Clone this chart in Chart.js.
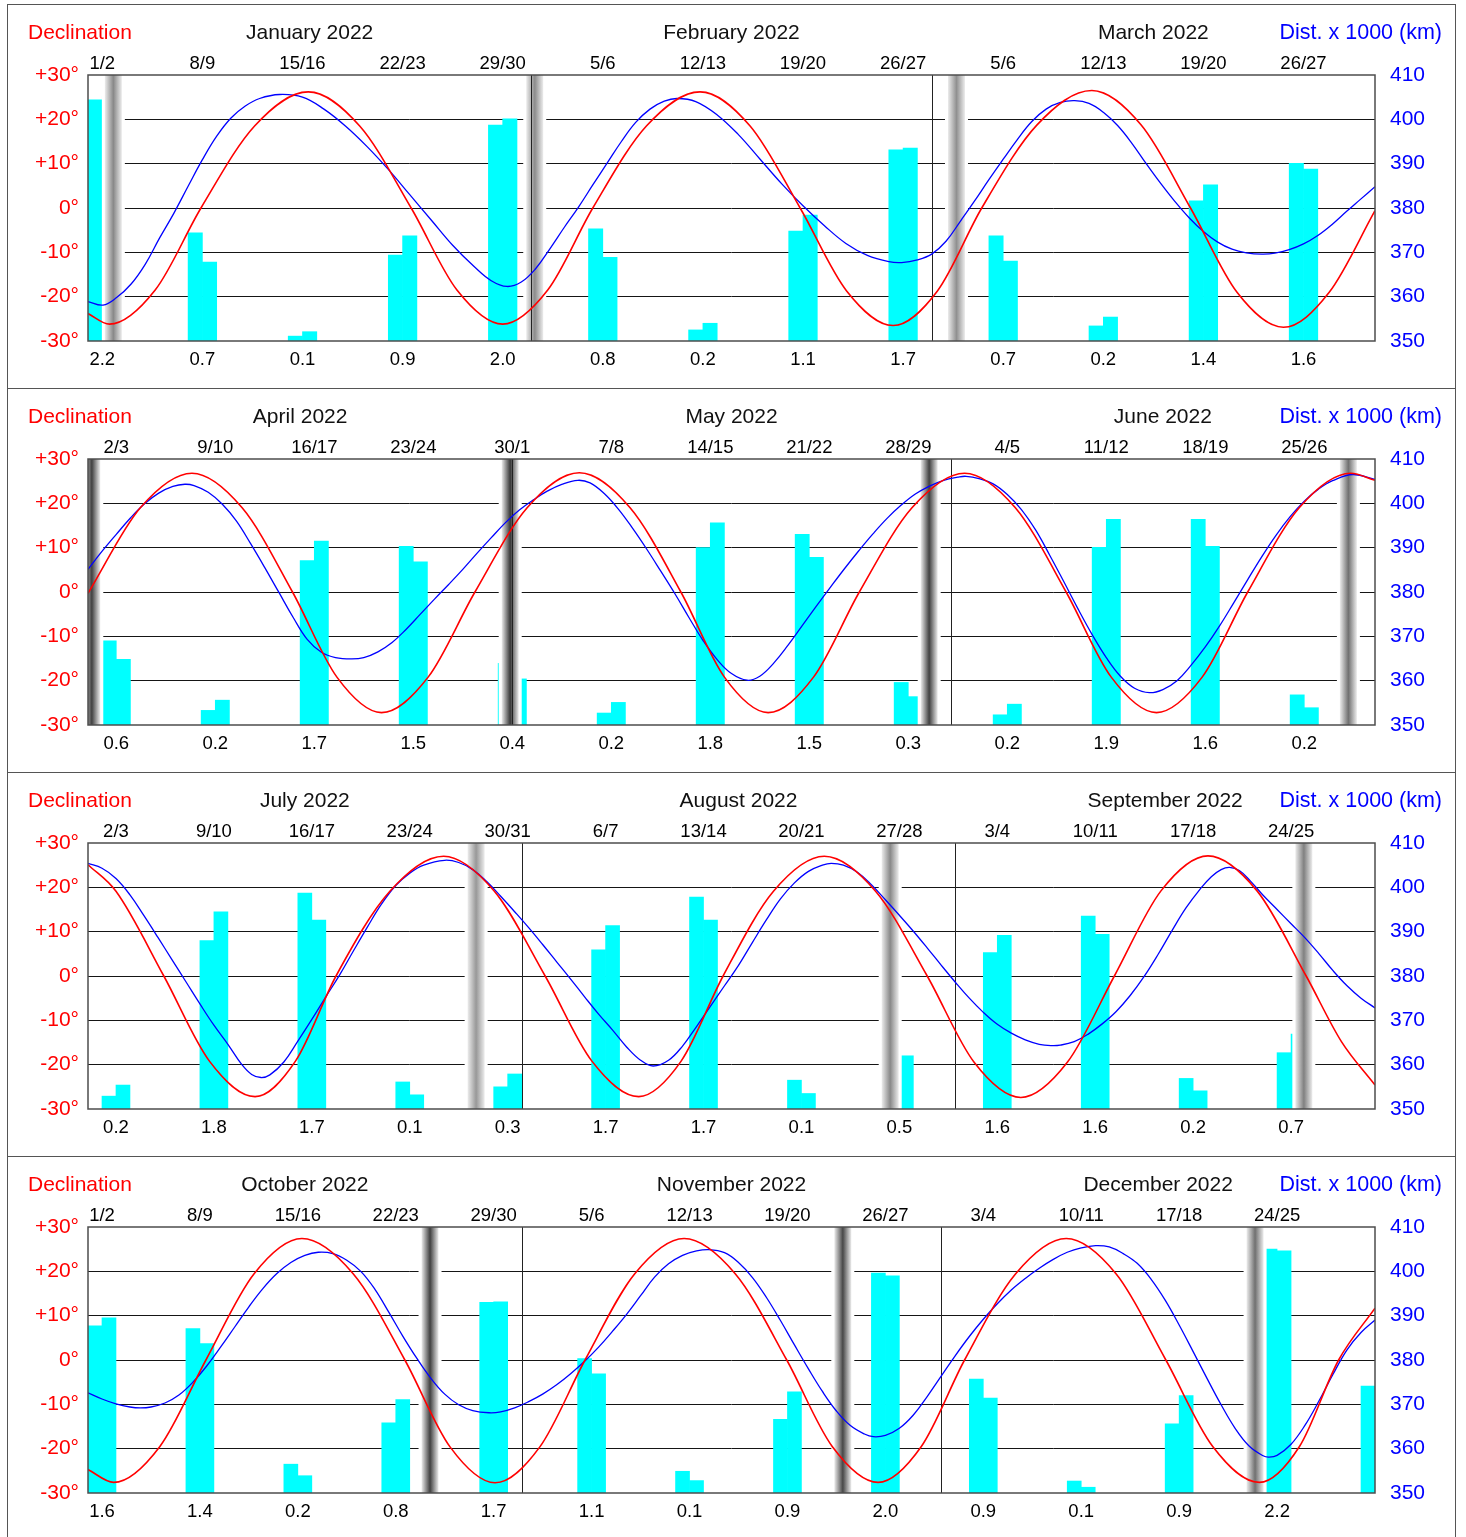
<!DOCTYPE html>
<html><head><meta charset="utf-8">
<script src="https://cdn.jsdelivr.net/npm/chart.js@4.4.1/dist/chart.umd.min.js"></script>
<style>
html,body{margin:0;padding:0;background:#fff;}
body{width:1466px;height:1537px;position:relative;overflow:hidden;}
.frame{position:absolute;left:7px;width:1447px;height:384px;border:1px solid #555;border-bottom:none;}
canvas{position:absolute;left:0;}
</style></head><body>
<script>
// ---------- Panel 1: January - March 2022 ----------
const P1_MONTHS = ['January 2022', 'February 2022', 'March 2022'];
const P1_MONTH_DAYS = [31, 28, 31];
const P1_PAIR_AT = [1, 8, 15, 22, 29, 36, 43, 50, 57, 64, 71, 78, 85];
const P1_PAIR_DATES = ['1/2', '8/9', '15/16', '22/23', '29/30', '5/6', '12/13', '19/20', '26/27', '5/6', '12/13', '19/20', '26/27'];
const P1_PAIR_VALUES = ['2.2', '0.7', '0.1', '0.9', '2.0', '0.8', '0.2', '1.1', '1.7', '0.7', '0.2', '1.4', '1.6'];
const P1_BAR_DAYS = [0, 1, 7, 8, 14, 15, 21, 22, 28, 29, 35, 36, 42, 43, 49, 50, 56, 57, 63, 64, 70, 71, 77, 78, 84, 85];
const P1_BAR_VALUES = [54.4, 55.3, 24.4, 17.8, 1.1, 2.1, 19.4, 23.7, 48.7, 50.1, 25.3, 18.9, 2.5, 4.0, 24.8, 28.4, 43.1, 43.5, 23.7, 18.0, 3.4, 5.4, 31.6, 35.2, 40.1, 38.8];
const P1_DECL_T = [0, 1.5, 4.7, 7.9, 11.65, 15.4, 19.0, 22.6, 25.8, 29.0, 32.15, 35.3, 39.05, 42.8, 46.3, 49.8, 53.05, 56.3, 59.4, 62.5, 66.35, 70.2, 73.65, 77.1, 80.35, 83.6, 86.8, 90];
const P1_DECL = [-23.8, -26.2, -18.5, 0, 18.5, 26.2, 18.5, 0, -18.5, -26.2, -18.5, 0, 18.5, 26.2, 18.5, 0, -18.7, -26.5, -18.7, 0, 18.7, 26.5, 18.7, 0, -19.0, -26.9, -19.0, -0.6];
const P1_DIST_T = [0, 1.05, 2, 3, 4, 5, 6, 7, 8, 9, 10, 11, 12, 13.4, 15, 16.5, 18, 19.5, 21, 22.5, 24, 25.5, 27, 28.2, 29.3, 30.3, 31.3, 32.3, 33.3, 34.3, 35.3, 36.3, 37.3, 38.3, 39.3, 40.3, 41.2, 42.5, 44, 45.5, 47, 48.5, 50, 51.5, 53, 54.5, 56, 56.9, 58, 59, 60, 61, 62, 63, 64, 65, 66, 67, 68, 69, 70, 71, 72, 73, 74, 75, 76, 77, 78, 79, 80, 81, 82.1, 83, 84, 85, 86, 87, 88, 89, 90];
const P1_DIST = [358.9, 358.1, 359.8, 362.8, 367.3, 373.2, 378.8, 384.9, 390.9, 396.2, 400.3, 403.0, 404.7, 405.6, 405.0, 402.3, 398.5, 393.9, 388.7, 383.0, 377.3, 371.6, 366.8, 363.6, 362.3, 363.3, 366.3, 370.8, 375.6, 380.2, 385.2, 390.1, 395.0, 399.3, 402.3, 404.1, 404.7, 404.0, 401.0, 396.5, 391.0, 385.5, 380.5, 376.0, 372.0, 369.3, 367.9, 367.7, 368.3, 369.6, 372.5, 377.0, 381.6, 386.4, 391.0, 395.5, 399.5, 402.3, 403.8, 404.2, 403.6, 401.6, 398.6, 394.6, 390.0, 385.6, 381.5, 377.8, 374.7, 372.3, 370.7, 369.9, 369.6, 369.8, 370.6, 371.9, 373.8, 376.3, 379.2, 382.0, 384.8];
const P1_NEW_MOON = [1.773, 31.240, 60.733];
const P1_NEW_MOON_SHADE = [136, 140, 144];

// ---------- Panel 2: April - June 2022 ----------
const P2_MONTHS = ['April 2022', 'May 2022', 'June 2022'];
const P2_MONTH_DAYS = [30, 31, 30];
const P2_PAIR_AT = [2, 9, 16, 23, 30, 37, 44, 51, 58, 65, 72, 79, 86];
const P2_PAIR_DATES = ['2/3', '9/10', '16/17', '23/24', '30/1', '7/8', '14/15', '21/22', '28/29', '4/5', '11/12', '18/19', '25/26'];
const P2_PAIR_VALUES = ['0.6', '0.2', '1.7', '1.5', '0.4', '0.2', '1.8', '1.5', '0.3', '0.2', '1.9', '1.6', '0.2'];
const P2_BAR_DAYS = [1, 2, 8, 9, 15, 16, 22, 23, 29, 30, 36, 37, 43, 44, 50, 51, 57, 58, 64, 65, 71, 72, 78, 79, 85, 86];
const P2_BAR_VALUES = [19.0, 14.8, 3.3, 5.6, 37.1, 41.5, 40.3, 36.8, 13.9, 10.4, 2.7, 5.1, 40.0, 45.6, 43.0, 37.8, 9.6, 6.4, 2.3, 4.7, 40.1, 46.4, 46.4, 40.3, 6.8, 3.9];
const P2_DECL_T = [0, 3.7, 7.35, 10.9, 14.46, 17.6, 20.75, 24.05, 27.36, 31.05, 34.74, 38.33, 41.92, 45.0, 48.09, 51.3, 54.54, 58.26, 61.98, 65.57, 69.16, 72.35, 75.55, 78.78, 82.0, 85.64, 89.28, 91];
const P2_DECL = [-0.3, 19.0, 26.8, 19.0, 0, -19.2, -27.2, -19.2, 0, 19.0, 26.9, 19.0, 0, -19.2, -27.2, -19.2, 0, 19.0, 26.8, 19.0, 0, -19.2, -27.2, -19.2, 0, 19.0, 26.8, 25.2];
const P2_DIST_T = [0, 1, 2, 3, 4, 5, 6, 6.85, 7.5, 8.5, 9.5, 10.5, 11.5, 12.5, 13.5, 14.5, 15.5, 16.5, 17.5, 18.66, 19.5, 20.5, 21.5, 22.5, 23.5, 24.5, 25.5, 26.5, 27.5, 28.5, 29.5, 30.5, 31.5, 32.5, 33.5, 34.64, 35.5, 36.5, 37.5, 38.5, 39.5, 40.5, 41.5, 42.5, 43.5, 44.5, 45.5, 46.6, 47.5, 48.5, 49.5, 50.5, 51.5, 52.5, 53.5, 54.5, 55.5, 56.5, 57.5, 58.5, 59.5, 60.5, 61.5, 62.08, 63, 64, 65, 66, 67, 68, 69, 70, 71, 72, 73, 74, 75.05, 76, 77, 78, 79, 80, 81, 82, 83, 84, 85, 86, 87, 88, 89.44, 91];
const P2_DIST = [385.1, 389.2, 393.0, 396.7, 399.9, 402.3, 403.8, 404.3, 404.0, 402.5, 399.8, 396.0, 390.9, 385.5, 379.9, 374.3, 369.3, 366.4, 365.2, 364.9, 365.2, 366.5, 368.6, 371.6, 375.0, 378.4, 381.7, 385.1, 388.7, 392.2, 395.6, 398.5, 400.8, 402.8, 404.3, 405.2, 404.6, 402.2, 398.7, 394.4, 389.7, 384.7, 379.6, 374.2, 369.0, 364.7, 361.6, 360.1, 361.0, 364.0, 368.0, 372.4, 376.8, 381.1, 385.3, 389.3, 393.1, 396.6, 399.6, 402.1, 403.9, 405.2, 405.9, 406.1, 405.6, 404.4, 402.0, 398.6, 394.0, 388.3, 382.3, 376.2, 370.4, 365.2, 361.0, 358.3, 357.3, 358.0, 360.0, 363.5, 367.6, 372.3, 377.5, 382.8, 388.0, 392.8, 397.0, 400.5, 403.2, 405.1, 406.5, 405.4];
const P2_NEW_MOON = [0.267, 29.853, 59.479, 89.119];
const P2_NEW_MOON_SHADE = [64, 56, 64, 112];

// ---------- Panel 3: July - September 2022 ----------
const P3_MONTHS = ['July 2022', 'August 2022', 'September 2022'];
const P3_MONTH_DAYS = [31, 31, 30];
const P3_PAIR_AT = [2, 9, 16, 23, 30, 37, 44, 51, 58, 65, 72, 79, 86];
const P3_PAIR_DATES = ['2/3', '9/10', '16/17', '23/24', '30/31', '6/7', '13/14', '20/21', '27/28', '3/4', '10/11', '17/18', '24/25'];
const P3_PAIR_VALUES = ['0.2', '1.8', '1.7', '0.1', '0.3', '1.7', '1.7', '0.1', '0.5', '1.6', '1.6', '0.2', '0.7'];
const P3_BAR_DAYS = [1, 2, 8, 9, 15, 16, 22, 23, 29, 30, 36, 37, 43, 44, 50, 51, 57, 58, 64, 65, 71, 72, 78, 79, 85, 86];
const P3_BAR_VALUES = [2.9, 5.4, 38.0, 44.5, 48.7, 42.6, 6.1, 3.2, 5.0, 7.9, 35.9, 41.4, 47.8, 42.6, 6.5, 3.5, 10.0, 12.0, 35.3, 39.2, 43.5, 39.4, 6.9, 4.1, 12.7, 16.9];
const P3_DECL_T = [0, 2.0, 5.42, 8.68, 11.94, 14.83, 17.73, 21.58, 25.42, 29.05, 32.68, 36.02, 39.37, 42.4, 45.4, 49.0, 52.63, 56.3, 59.99, 63.33, 66.68, 70.02, 73.37, 76.7, 80.06, 83.57, 87.08, 89.6, 92];
const P3_DECL = [25.1, 19.1, 0, -19.2, -27.2, -19.2, 0, 19.1, 27.0, 19.1, 0, -19.2, -27.2, -19.2, 0, 19.1, 27.0, 19.1, 0, -19.4, -27.4, -19.4, 0, 19.2, 27.1, 19.2, 0, -14.8, -24.6];
const P3_DIST_T = [0, 1, 2, 3, 4, 5, 6, 7, 8, 9, 10, 11, 11.7, 12.37, 13, 14, 15, 16, 17, 18, 19, 20, 21, 22, 23, 24, 25.49, 26.5, 27.5, 28.5, 29.5, 30.5, 31.5, 32.5, 33.5, 34.5, 35.5, 36.5, 37.5, 38.5, 39.5, 40.4, 41.5, 42.5, 43.5, 44.5, 45.5, 46.5, 47.5, 48.5, 49.5, 50.5, 51.5, 52.5, 53.13, 54, 55, 56, 57, 58, 59, 60, 61, 62, 63, 64, 65, 66, 67, 68, 68.86, 69.5, 70.5, 71.5, 72.5, 73.5, 74.5, 75.5, 76.5, 77.5, 78.5, 79.5, 80.3, 81.0, 81.6, 82.3, 83.1, 84, 85, 86, 87, 88, 89, 90, 91, 92];
const P3_DIST = [405.4, 404.3, 402.0, 398.3, 393.6, 388.7, 383.7, 378.7, 373.7, 368.9, 364.6, 360.0, 357.8, 357.1, 357.7, 360.6, 365.3, 370.2, 375.3, 380.3, 385.8, 391.2, 396.3, 400.4, 403.2, 405.0, 406.1, 405.6, 404.0, 401.3, 398.0, 394.5, 390.9, 387.1, 383.2, 379.3, 375.3, 371.4, 367.8, 364.0, 361.0, 359.7, 361.0, 364.2, 368.6, 373.2, 377.8, 382.4, 387.6, 392.7, 397.4, 401.0, 403.6, 405.0, 405.4, 405.0, 403.4, 400.6, 397.2, 393.7, 390.1, 386.3, 382.4, 378.6, 375.0, 371.8, 369.1, 367.1, 365.6, 364.6, 364.3, 364.4, 365.2, 366.9, 369.2, 372.0, 375.6, 379.9, 384.9, 390.3, 395.4, 399.6, 402.4, 404.0, 404.5, 403.8, 401.4, 398.2, 395.0, 391.8, 388.6, 385.0, 381.2, 377.8, 375.0, 372.8];
const P3_NEW_MOON = [27.746, 57.345, 86.913];
const P3_NEW_MOON_SHADE = [152, 136, 128];

// ---------- Panel 4: October - December 2022 ----------
const P4_MONTHS = ['October 2022', 'November 2022', 'December 2022'];
const P4_MONTH_DAYS = [31, 30, 31];
const P4_PAIR_AT = [1, 8, 15, 22, 29, 36, 43, 50, 57, 64, 71, 78, 85];
const P4_PAIR_DATES = ['1/2', '8/9', '15/16', '22/23', '29/30', '5/6', '12/13', '19/20', '26/27', '3/4', '10/11', '17/18', '24/25'];
const P4_PAIR_VALUES = ['1.6', '1.4', '0.2', '0.8', '1.7', '1.1', '0.1', '0.9', '2.0', '0.9', '0.1', '0.9', '2.2'];
const P4_BAR_DAYS = [0, 1, 7, 8, 14, 15, 21, 22, 28, 29, 35, 36, 42, 43, 49, 50, 56, 57, 63, 64, 70, 71, 77, 78, 84, 85, 91];
const P4_BAR_VALUES = [37.7, 39.5, 37.1, 33.7, 6.5, 3.9, 15.8, 21.1, 43.0, 43.1, 30.3, 26.9, 4.9, 2.8, 16.6, 22.8, 49.6, 49.0, 25.7, 21.4, 2.7, 1.3, 15.6, 22.0, 55.0, 54.6, 24.1];
const P4_DECL_T = [0, 1.84, 5.14, 8.43, 11.86, 15.29, 18.97, 22.65, 25.88, 29.1, 32.3, 35.53, 39.07, 42.61, 46.28, 49.95, 53.2, 56.48, 59.57, 62.66, 66.3, 69.93, 73.5, 77.05, 80.4, 83.74, 86.6, 89.4, 92];
const P4_DECL = [-24.7, -27.6, -19.5, 0, 19.4, 27.4, 19.4, 0, -19.6, -27.7, -19.6, 0, 19.4, 27.4, 19.4, 0, -19.5, -27.6, -19.5, 0, 19.4, 27.4, 19.4, 0, -19.5, -27.6, -19.5, 0, 11.7];
const P4_DIST_T = [0, 1, 2, 3, 3.74, 4.5, 5.5, 6.5, 7.5, 8.5, 9.5, 10.5, 11.5, 12.5, 13.5, 14.5, 15.5, 16.46, 17.5, 18.5, 19.5, 20.5, 21.5, 22.5, 23.5, 24.5, 25.5, 26.5, 27.5, 28.67, 29.5, 30.5, 31.5, 32.5, 33.5, 34.5, 35.5, 36.5, 37.5, 38.5, 39.5, 40.5, 41.5, 42.5, 43.5, 44.39, 45.5, 46.5, 47.5, 48.5, 49.5, 50.5, 51.5, 52.5, 53.5, 54.5, 55.5, 56.14, 57, 58, 59, 60, 61, 62, 63, 64, 65, 66, 67, 68, 69, 70, 71, 72.03, 73, 74, 75, 76, 77, 78, 79, 80, 81, 82, 83, 84, 84.41, 85, 86, 87, 88, 89, 90, 91, 92];
const P4_DIST = [372.6, 371.2, 370.1, 369.4, 369.2, 369.4, 370.3, 372.1, 375.0, 378.7, 383.0, 387.5, 392.0, 396.1, 399.5, 402.0, 403.6, 404.3, 404.0, 402.5, 400.0, 396.0, 390.8, 385.4, 380.4, 375.9, 372.3, 369.9, 368.6, 368.1, 368.3, 369.2, 370.6, 372.3, 374.4, 376.9, 379.7, 382.9, 386.5, 390.3, 394.5, 398.7, 401.7, 403.6, 404.6, 404.9, 404.2, 402.0, 398.6, 394.1, 388.9, 383.4, 378.0, 372.9, 368.5, 365.2, 363.3, 362.7, 363.0, 364.6, 367.6, 371.8, 376.4, 381.0, 385.3, 389.2, 392.7, 395.8, 398.4, 400.7, 402.7, 404.3, 405.3, 405.8, 405.5, 404.0, 401.8, 398.2, 393.5, 387.9, 381.9, 375.8, 369.9, 364.6, 360.6, 358.4, 358.1, 358.5, 361.0, 365.3, 370.8, 376.8, 382.3, 386.2, 389.0];
const P4_NEW_MOON = [24.451, 53.956, 83.428];
const P4_NEW_MOON_SHADE = [64, 72, 112];

// ---------- shared axis ticks ----------
const DECL_TICKS = [-30, -20, -10, 0, 10, 20, 30];
const DIST_TICKS = [350, 360, 370, 380, 390, 400, 410];

const PANELS = [
  {months: P1_MONTHS, monthDays: P1_MONTH_DAYS, pairAt: P1_PAIR_AT, pairDates: P1_PAIR_DATES, pairValues: P1_PAIR_VALUES, barDays: P1_BAR_DAYS, barValues: P1_BAR_VALUES, declT: P1_DECL_T, decl: P1_DECL, distT: P1_DIST_T, dist: P1_DIST, newMoon: P1_NEW_MOON, shade: P1_NEW_MOON_SHADE},
  {months: P2_MONTHS, monthDays: P2_MONTH_DAYS, pairAt: P2_PAIR_AT, pairDates: P2_PAIR_DATES, pairValues: P2_PAIR_VALUES, barDays: P2_BAR_DAYS, barValues: P2_BAR_VALUES, declT: P2_DECL_T, decl: P2_DECL, distT: P2_DIST_T, dist: P2_DIST, newMoon: P2_NEW_MOON, shade: P2_NEW_MOON_SHADE},
  {months: P3_MONTHS, monthDays: P3_MONTH_DAYS, pairAt: P3_PAIR_AT, pairDates: P3_PAIR_DATES, pairValues: P3_PAIR_VALUES, barDays: P3_BAR_DAYS, barValues: P3_BAR_VALUES, declT: P3_DECL_T, decl: P3_DECL, distT: P3_DIST_T, dist: P3_DIST, newMoon: P3_NEW_MOON, shade: P3_NEW_MOON_SHADE},
  {months: P4_MONTHS, monthDays: P4_MONTH_DAYS, pairAt: P4_PAIR_AT, pairDates: P4_PAIR_DATES, pairValues: P4_PAIR_VALUES, barDays: P4_BAR_DAYS, barValues: P4_BAR_VALUES, declT: P4_DECL_T, decl: P4_DECL, distT: P4_DIST_T, dist: P4_DIST, newMoon: P4_NEW_MOON, shade: P4_NEW_MOON_SHADE}
];

const FONT = '"Liberation Sans", Arial, sans-serif';
Chart.defaults.font.family = FONT;

function makeDecor(P) {
  return {
    id: 'decor',
    afterDatasetDraw(chart, args) {
      if (args.meta.type !== 'bar') return;
      const ctx = chart.ctx, a = chart.chartArea, xs = chart.scales.x;
      ctx.save();
      ctx.beginPath(); ctx.rect(a.left, a.top, a.right - a.left, a.bottom - a.top); ctx.clip();
      P.newMoon.forEach((t, k) => {
        const cx = xs.getPixelForValue(t);
        ctx.fillStyle = '#ffffff';
        ctx.fillRect(cx - 11.5, a.top, 23, a.bottom - a.top);
        const s = P.shade[k];
        const g = ctx.createLinearGradient(cx - 8.5, 0, cx + 8.5, 0);
        g.addColorStop(0, 'rgb(236,236,236)');
        g.addColorStop(0.5, `rgb(${s},${s},${s})`);
        g.addColorStop(1, 'rgb(236,236,236)');
        ctx.fillStyle = g;
        ctx.fillRect(cx - 8.5, a.top, 17, a.bottom - a.top);
      });
      ctx.strokeStyle = '#222'; ctx.lineWidth = 1;
      let acc = 0;
      P.monthDays.slice(0, -1).forEach(d => {
        acc += d;
        const x = Math.round(xs.getPixelForValue(acc)) + 0.5;
        ctx.beginPath(); ctx.moveTo(x, a.top); ctx.lineTo(x, a.bottom); ctx.stroke();
      });
      ctx.restore();
    },
    afterDraw(chart) {
      const ctx = chart.ctx, a = chart.chartArea, xs = chart.scales.x;
      ctx.save();
      ctx.strokeStyle = '#4d4d4d'; ctx.lineWidth = 1.5;
      ctx.strokeRect(a.left, a.top, a.right - a.left, a.bottom - a.top);
      ctx.textBaseline = 'alphabetic';
      ctx.font = '21px ' + FONT;
      ctx.fillStyle = '#ff0000'; ctx.textAlign = 'left';
      ctx.fillText('Declination', 28, 35);
      ctx.fillStyle = '#111'; ctx.textAlign = 'center';
      let start = 0;
      P.months.forEach((m, k) => {
        const d = P.monthDays[k];
        ctx.fillText(m, xs.getPixelForValue(start + d / 2), 35);
        start += d;
      });
      ctx.font = '21.5px ' + FONT;
      ctx.fillStyle = '#0000ff'; ctx.textAlign = 'right';
      ctx.fillText('Dist. x 1000 (km)', 1442, 35);
      ctx.restore();
    }
  };
}

PANELS.forEach((P, i) => {
  const frame = document.createElement('div');
  frame.className = 'frame';
  frame.style.top = (4 + 384 * i) + 'px';
  document.body.appendChild(frame);

  const canvas = document.createElement('canvas');
  canvas.width = 1466; canvas.height = 384;
  canvas.style.top = (4 + 384 * i) + 'px';
  document.body.appendChild(canvas);

  const N = P.monthDays.reduce((s, d) => s + d, 0);
  const pairTicks = s => { s.ticks = P.pairAt.map(v => ({value: v})); };

  new Chart(canvas.getContext('2d'), {
    type: 'line',
    data: {
      datasets: [
        {type: 'line', label: 'Declination', data: P.declT.map((t, k) => ({x: t, y: P.decl[k]})),
         borderColor: '#ff0000', borderWidth: 1.6, pointRadius: 0, fill: false,
         cubicInterpolationMode: 'monotone', xAxisID: 'x', yAxisID: 'yDecl', order: 1},
        {type: 'line', label: 'Distance', data: P.distT.map((t, k) => ({x: t, y: P.dist[k]})),
         borderColor: '#0000ff', borderWidth: 1.3, pointRadius: 0, fill: false,
         tension: 0.4, xAxisID: 'x', yAxisID: 'yDist', order: 2},
        {type: 'bar', label: 'Bars', data: P.barDays.map((d, k) => ({x: d + 0.5, y: P.barValues[k]})),
         backgroundColor: '#00ffff', borderWidth: 0, barPercentage: 1, categoryPercentage: 1,
         xAxisID: 'x', yAxisID: 'yBar', order: 3}
      ]
    },
    options: {
      responsive: false, animation: false, devicePixelRatio: 1,
      layout: {padding: 0},
      plugins: {legend: {display: false}, tooltip: {enabled: false}},
      scales: {
        x: {type: 'linear', position: 'bottom', min: 0, max: N, offset: false,
            grid: {display: false, offset: false}, border: {display: false},
            afterBuildTicks: pairTicks,
            ticks: {autoSkip: false, maxRotation: 0, minRotation: 0, padding: 0, color: '#000',
                    font: {size: 18.5}, callback: (v, idx) => P.pairValues[idx]},
            afterFit: s => { s.height = 47; }},
        xTop: {type: 'linear', position: 'top', min: 0, max: N, offset: false,
            grid: {display: false, offset: false}, border: {display: false},
            afterBuildTicks: pairTicks,
            ticks: {autoSkip: false, maxRotation: 0, minRotation: 0, padding: -8, color: '#000',
                    font: {size: 18.5}, callback: (v, idx) => P.pairDates[idx]},
            afterFit: s => { s.height = 71; }},
        yDecl: {type: 'linear', position: 'left', min: -30, max: 30,
            afterBuildTicks: s => { s.ticks = DECL_TICKS.map(v => ({value: v})); },
            ticks: {color: '#ff0000', font: {size: 21}, padding: 9,
                    callback: v => (v > 0 ? '+' + v : String(v)) + '°'},
            grid: {drawTicks: false, lineWidth: 1,
                   color: c => (Math.abs(c.tick.value) === 30 ? 'rgba(0,0,0,0)' : '#151515')},
            border: {display: false},
            afterFit: s => { s.width = 88; }},
        yDist: {type: 'linear', position: 'right', min: 350, max: 410,
            afterBuildTicks: s => { s.ticks = DIST_TICKS.map(v => ({value: v})); },
            ticks: {color: '#0000ff', font: {size: 21}, padding: 15},
            grid: {display: false, drawTicks: false}, border: {display: false},
            afterFit: s => { s.width = 91; }},
        yBar: {type: 'linear', display: false, min: 0, max: 60}
      }
    },
    plugins: [makeDecor(P)]
  });
});
</script>
</body></html>
